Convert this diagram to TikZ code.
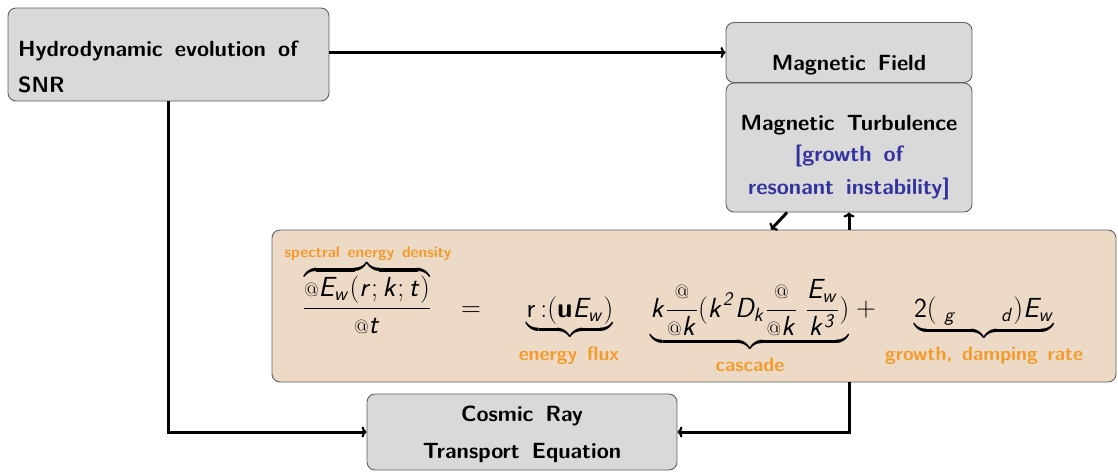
\documentclass[tikz,border=0pt]{standalone}
\usepackage{amsmath}
\usetikzlibrary{arrows.meta}
\renewcommand\familydefault{\sfdefault}
\DeclareMathAlphabet{\mathsfsl}{OT1}{cmss}{m}{sl}
\DeclareMathAlphabet{\mathsfup}{OT1}{cmss}{m}{n}
\DeclareMathAlphabet{\mathsfbx}{OT1}{cmss}{bx}{n}
\definecolor{boxgray}{RGB}{217,217,217}
\definecolor{boxline}{RGB}{95,95,95}
\definecolor{eqfill}{RGB}{236,218,198}
\definecolor{bluetxt}{RGB}{51,51,160}
\definecolor{orangetxt}{RGB}{243,155,45}
\newcommand\pd{{\scriptstyle @}}
\newcommand\widesp{\spaceskip=0.55em\relax}
\newcommand\widespo{\spaceskip=0.5em\relax}
\begin{document}
\begin{tikzpicture}[x=1pt,y=-1pt,
  graybox/.style={draw=boxline, fill=boxgray, rounded corners=8pt, line width=0.9pt, inner sep=0pt},
  eqbox/.style={draw=boxline, fill=eqfill, rounded corners=8pt, line width=0.9pt, inner sep=0pt},
  lbl/.style={anchor=base, inner sep=0pt, font={\fontsize{22}{26}\selectfont\bfseries\widesp}},
  bluelbl/.style={lbl, text=bluetxt},
  olbl/.style={anchor=base, inner sep=0pt, text=orangetxt, font={\fontsize{19.5}{22}\selectfont\bfseries\widespo}},
  math/.style={anchor=base, inner sep=0pt, font={\fontsize{22}{26}\selectfont}, scale=1.33, transform shape},
  arr/.style={line width=3pt, -{To[length=5pt,width=11pt,line width=2.2pt]}}
]
\useasboundingbox (0,0) rectangle (1118,472);

% boxes
\node[graybox, minimum width=321pt, minimum height=93pt] (hydro) at (168.5,54.5) {};
\node[graybox, minimum width=246pt, minimum height=60pt] (mf) at (849,52.5) {};
\node[graybox, minimum width=246pt, minimum height=129pt] (turb) at (849,147.5) {};
\node[eqbox, minimum width=844pt, minimum height=152pt] (eq) at (694,306) {};
\node[graybox, minimum width=310pt, minimum height=76pt] (cr) at (522,432) {};

% box texts
\node[lbl, anchor=base west] (h1) at (18,56) {Hydrodynamic evolution of};
\node[lbl, anchor=base west] (h2) at (18,92) {SNR};
\node[lbl] (mft) at (849,70) {Magnetic Field};
\node[lbl] (t1) at (849,130) {Magnetic Turbulence};
\node[bluelbl] (t2) at (849,161) {[growth of};
\node[bluelbl] (t3) at (849,194) {resonant instability]};
\node[lbl] (c1) at (522,421) {Cosmic Ray};
\node[lbl] (c2) at (522,458) {Transport Equation};

% equation
\node[math] (lhs) at (367,315) {$\displaystyle\frac{\overbrace{\pd\mathsfsl{E_w(r;k;t)}}}{\pd\mathsfsl{t}}$};
\node[math] (eqs) at (471,316) {$=$};
\node[math] (term1) at (570,317) {$\displaystyle\underbrace{\mathsfup{r}\,{:}(\mathsfbx{u}\mathsfsl{E_w})}$};
\node[math] (term2) at (750,317) {$\displaystyle\underbrace{\mathsfsl{k}\frac{\pd}{\pd\mathsfsl{k}}(\mathsfsl{k^2D_k}\frac{\pd}{\pd\mathsfsl{k}}\;\frac{\mathsfsl{E_w}}{\mathsfsl{k^3}})}$};
\node[math] (plus) at (866,316) {$+$};
\node[math] (term3) at (984,317) {$\displaystyle\underbrace{\mathsfup{2}(\;{}_{\mathsfsl{g}}\quad\;\;{}_{\mathsfsl{d}})\mathsfsl{E_w}}$};

\node[olbl, font={\fontsize{15.5}{18}\selectfont\bfseries\widespo}] (l0) at (368,257) {spectral energy density};
\node[olbl] (l1) at (569,360) {energy flux};
\node[olbl] (l2) at (750,371) {cascade};
\node[olbl] (l3) at (984,360) {growth, damping rate};

% connectors
\draw[arr] (hydro.east |- mf.west) -- (mf.west);
\draw[arr] (hydro.south) |- (cr.west);
\draw[arr] (turb.south |- eq.south) |- (cr.east);
\draw[arr] (turb.south |- eq.north) -- (turb.south);
\draw[arr] ([xshift=-62pt]turb.south) -- ([xshift=-78pt]turb.south |- eq.north);
\end{tikzpicture}
\end{document}
